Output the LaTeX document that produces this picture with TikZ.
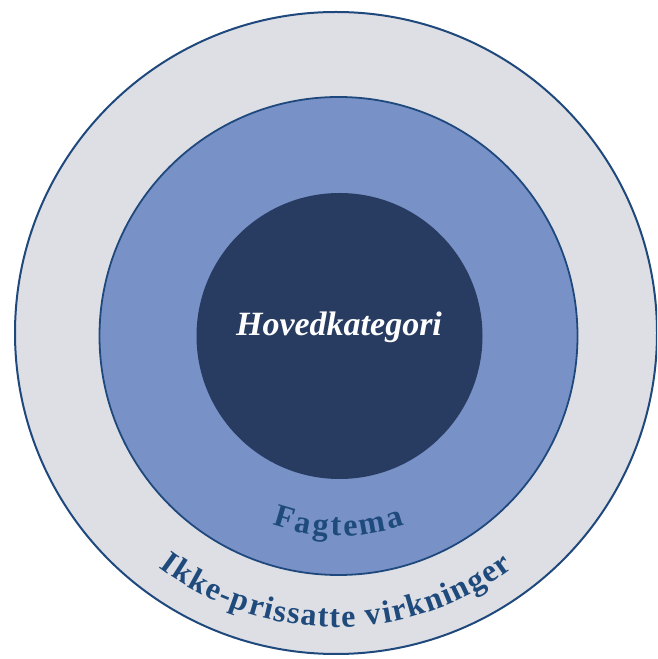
\documentclass[tikz,border=0pt]{standalone}
\usepackage{fontspec}
\setmainfont{Liberation Serif}
\usetikzlibrary{decorations.text}
\definecolor{outerfill}{HTML}{DEDFE4}
\definecolor{ringline}{HTML}{1F497D}
\definecolor{midfill}{HTML}{7892C8}
\definecolor{innerfill}{HTML}{283C62}
\definecolor{labeltxt}{HTML}{1F4A7C}
\newcommand{\labfont}{\bfseries\fontsize{32}{32}\selectfont}
\tikzset{
  ring/.style={circle, inner sep=0pt, outer sep=0pt},
  arclabel/.style n args={2}{decorate, font=\labfont, text=labeltxt,
    decoration={text effects along path, text={#1}, text align=center,
      text effects/.cd, text along path,
      character widths={inner xsep=#2},
      every character/.style={font=\labfont, text=labeltxt}}}
}
\begin{document}
\begin{tikzpicture}[x=1pt,y=1pt]
\useasboundingbox (0,0) rectangle (657,659);
\clip (0,0) rectangle (657,659);
\fill[white] (0,0) rectangle (657,659);
\node[ring, draw=ringline, line width=2pt, fill=outerfill, minimum size=642pt] (outer) at (336,326) {};
\node[ring, draw=ringline, line width=1.8pt, fill=midfill, minimum size=478pt] (middle) at (338.5,323) {};
\node[ring, fill=innerfill, minimum size=286pt] (inner) at (339.5,323) {};
\node[anchor=base, text=white, font=\bfseries\itshape\fontsize{34}{34}\selectfont] (hoved) at (339,323) {Hovedkategori};
\path[arclabel={Fagtema}{1.3pt}] (middle.center) ++(215:200) arc[start angle=215, end angle=325, radius=200];
\path[arclabel={Ikke-prissatte virkninger}{0.75pt}] (outer.center) ++(200:294) arc[start angle=200, end angle=340, radius=294];
\end{tikzpicture}
\end{document}
